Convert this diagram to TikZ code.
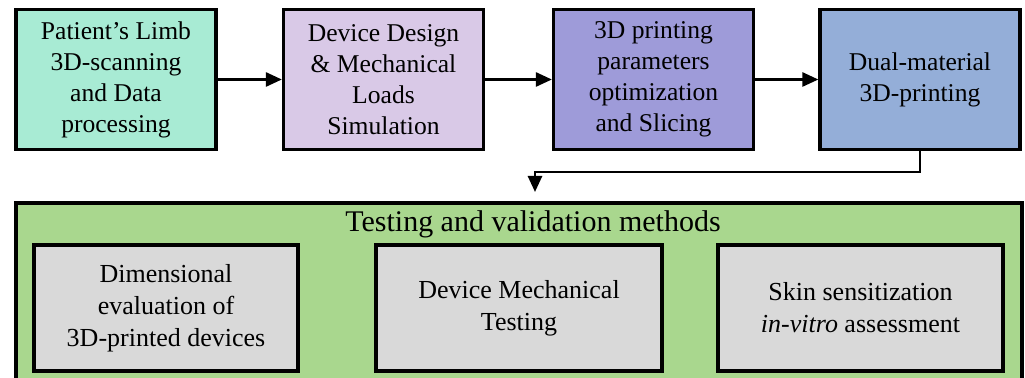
\documentclass[tikz,border=0pt]{standalone}
\usepackage{fontspec}
\setmainfont{Liberation Serif}
\usetikzlibrary{arrows.meta}
\definecolor{cteal}{HTML}{A8EBD4}
\definecolor{clav}{HTML}{D9C9E7}
\definecolor{cpurp}{HTML}{9E9BD9}
\definecolor{cblue}{HTML}{94AED8}
\definecolor{cgreen}{HTML}{A9D78E}
\definecolor{cgray}{HTML}{D9D9D9}
\tikzset{
  topbox/.style={draw=black, line width=1.6pt, minimum width=100pt, minimum height=70pt,
    align=center, inner sep=0pt, font=\fontsize{12.8}{15.5}\selectfont},
  graybox/.style={draw=black, line width=1.6pt, fill=cgray, minimum height=63pt,
    align=center, inner sep=0pt, font=\fontsize{13}{16}\selectfont},
  arr/.style={line width=1.3pt, -{Triangle[length=8pt,width=7pt]}},
}
\begin{document}
\begin{tikzpicture}[x=0.5pt,y=-0.5pt]
\useasboundingbox (0,0) rectangle (1025,378);
\clip (0,0) rectangle (1025,378);
% green container
\node[draw=black, line width=1.6pt, fill=cgreen, minimum width=503pt, minimum height=95pt, inner sep=0pt] (tv) at (519,298) {};
\node[font=\fontsize{15}{18}\selectfont] (tvt) at (533,224) {Testing and validation methods};
% top row
\node[topbox, fill=cteal] (b1) at (116,79.5) {Patient's Limb\\3D-scanning\\and Data\\processing};
\node[topbox, fill=clav] (b2) at (383.5,79.5) {Device Design\\\& Mechanical\\Loads\\Simulation};
\node[topbox, fill=cpurp] (b3) at (653.5,79.5) {3D printing\\parameters\\optimization\\and Slicing};
\node[topbox, fill=cblue] (b4) at (920,79.5) {Dual-material\\3D-printing};
% gray boxes
\node[graybox, minimum width=132pt] (g1) at (166,308) {Dimensional\\evaluation of\\3D-printed devices};
\node[graybox, minimum width=143pt] (g2) at (519,308) {Device Mechanical\\Testing};
\node[graybox, minimum width=142.5pt] (g3) at (860.5,308) {Skin sensitization\\\textit{in-vitro} assessment};
% connectors
\draw[arr] (b1) -- (b2);
\draw[arr] (b2) -- (b3);
\draw[arr] (b3) -- (b4);
\coordinate (turn) at (535,172);
\coordinate (tip) at (535,192);
\draw[arr] (b4.south) |- (turn) -- (tip);
\end{tikzpicture}
\end{document}
